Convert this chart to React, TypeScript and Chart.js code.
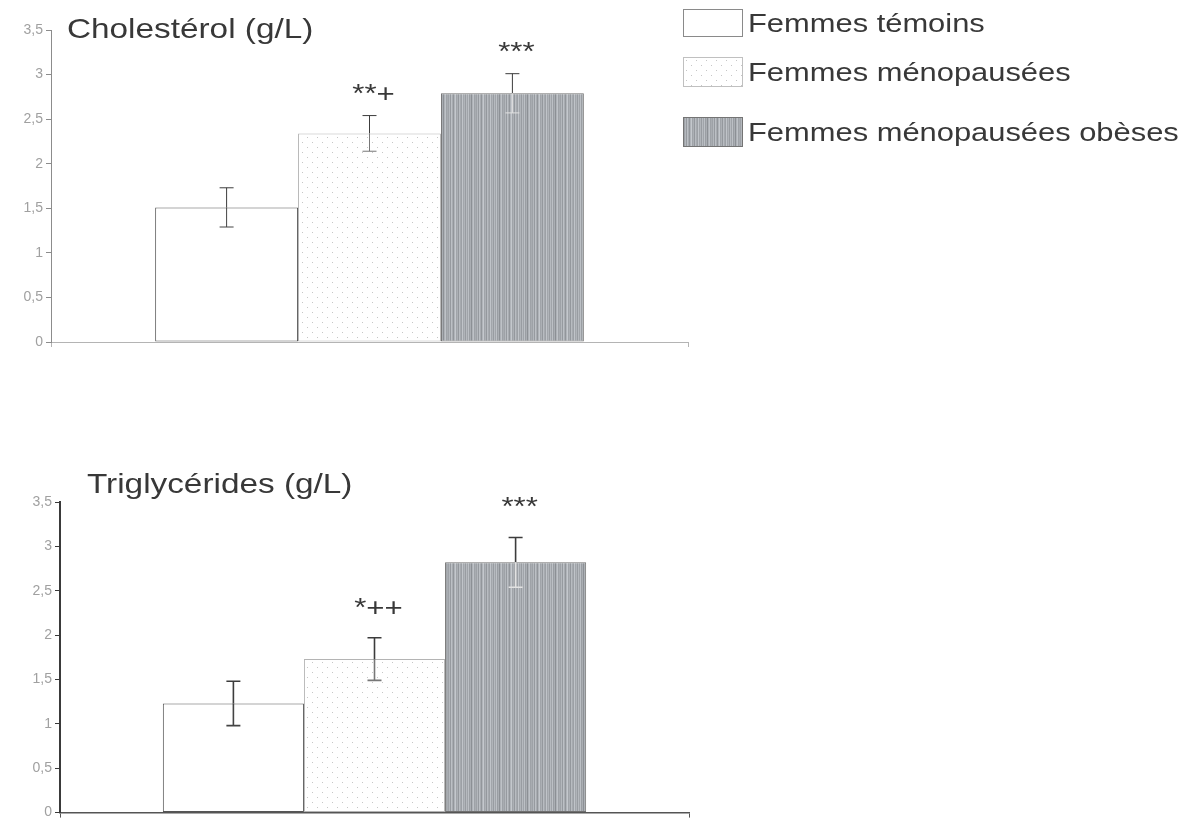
import React, { useEffect, useRef } from "react";
import { Chart, registerables } from "chart.js";

Chart.register(...registerables);

// ---------- data ----------
const groups = ["Femmes témoins", "Femmes ménopausées", "Femmes ménopausées obèses"];
const categories = [""];
const yTicks = [0, 0.5, 1, 1.5, 2, 2.5, 3, 3.5];

const cholTitle = "Cholestérol (g/L)";
const cholMeans = [1.51, 2.34, 2.79];
const cholErrors = [0.22, 0.2, 0.22];
const cholMarks = ["", "**+", "***"];

const trigTitle = "Triglycérides (g/L)";
const trigMeans = [1.23, 1.73, 2.82];
const trigErrors = [0.25, 0.24, 0.28];
const trigMarks = ["", "*++", "***"];

const FONT = '"Liberation Sans", Arial, Helvetica, sans-serif';

// ---------- fill patterns ----------
function makeDotTile(): HTMLCanvasElement {
  const c = document.createElement("canvas");
  c.width = 10;
  c.height = 10;
  const g = c.getContext("2d")!;
  g.fillStyle = "#ffffff";
  g.fillRect(0, 0, 10, 10);
  g.fillStyle = "#c6c6c6";
  g.fillRect(2, 2, 1, 1);
  g.fillRect(7, 7, 1, 1);
  return c;
}

const stripeGrays = [
  158, 180, 150, 188, 168, 146, 176, 196, 160, 172, 148, 184, 166, 156, 192, 162,
  176, 152, 182, 160, 188, 154, 170, 140, 174, 190, 158, 168,
];

function makeStripeTile(): HTMLCanvasElement {
  const c = document.createElement("canvas");
  c.width = stripeGrays.length;
  c.height = 8;
  const g = c.getContext("2d")!;
  stripeGrays.forEach((v, i) => {
    g.fillStyle = `rgb(${v},${v + 4},${v + 9})`;
    g.fillRect(i, 0, 1, 8);
  });
  return c;
}

const dotTile = makeDotTile();
const stripeTile = makeStripeTile();

function drawScaledText(
  ctx: CanvasRenderingContext2D,
  text: string,
  x: number,
  y: number,
  size: number,
  color: string,
  sx: number,
  align: CanvasTextAlign
) {
  ctx.save();
  ctx.translate(x, y);
  ctx.scale(sx, 1);
  ctx.font = `${size}px ${FONT}`;
  ctx.fillStyle = color;
  ctx.textAlign = align;
  ctx.textBaseline = "alphabetic";
  ctx.fillText(text, 0, 0);
  ctx.restore();
}

type PanelProps = {
  title: string;
  means: number[];
  errors: number[];
  marks: string[];
  width: number;
  height: number;
  axisLeft: number;
  padTop: number;
  padRight: number;
  xAxisHeight: number;
  titleX: number;
  titleY: number;
  markOffset: number;
  yAxisColor: string;
  yAxisWidth: number;
  xAxisColor: string;
  xAxisWidth: number;
  errWidth: number;
};

function Panel(p: PanelProps) {
  const ref = useRef<HTMLCanvasElement | null>(null);

  useEffect(() => {
    const canvas = ref.current!;
    const ctx0 = canvas.getContext("2d")!;
    const dots = ctx0.createPattern(dotTile, "repeat")!;
    const stripes = ctx0.createPattern(stripeTile, "repeat")!;
    const fills = ["#ffffff", dots, stripes];
    const borders = ["#555555", "#b4b4b4", "#707070"];
    const innerErr = ["#444444", "#777777", "#e2e2e2"];

    const overlay = {
      id: "overlay",
      afterDatasetsDraw(chart: any) {
        const ctx: CanvasRenderingContext2D = chart.ctx;
        const ys = chart.scales.y;
        p.means.forEach((m, i) => {
          const bar = chart.getDatasetMeta(i).data[0];
          const x = bar.x;
          const yTop = ys.getPixelForValue(m + p.errors[i]);
          const yBot = ys.getPixelForValue(m - p.errors[i]);
          const yMean = ys.getPixelForValue(m);
          const cap = 7;
          ctx.save();
          ctx.lineWidth = p.errWidth;
          ctx.strokeStyle = "#3c3c3c";
          ctx.beginPath();
          ctx.moveTo(x, yTop);
          ctx.lineTo(x, yMean);
          ctx.moveTo(x - cap, yTop);
          ctx.lineTo(x + cap, yTop);
          ctx.stroke();
          ctx.strokeStyle = innerErr[i];
          ctx.beginPath();
          ctx.moveTo(x, yMean);
          ctx.lineTo(x, yBot);
          ctx.moveTo(x - cap, yBot);
          ctx.lineTo(x + cap, yBot);
          ctx.stroke();
          ctx.restore();
          if (p.marks[i]) {
            drawScaledText(ctx, p.marks[i], x + 4, yTop - p.markOffset, 26, "#383838", 1.2, "center");
          }
        });
        drawScaledText(ctx, p.title, p.titleX, p.titleY, 28, "#383838", 1.19, "left");
      },
    };

    const chart = new Chart(canvas, {
      type: "bar",
      data: {
        labels: categories,
        datasets: groups.map((g, i) => ({
          label: g,
          data: [p.means[i]],
          backgroundColor: fills[i] as any,
          borderColor: borders[i],
          borderWidth: 1,
          borderSkipped: false,
          barPercentage: 1,
          categoryPercentage: 0.673,
        })),
      },
      options: {
        responsive: false,
        animation: false,
        events: [],
        layout: { padding: { top: p.padTop, right: p.padRight, left: 0, bottom: 0 } },
        plugins: {
          legend: { display: false },
          tooltip: { enabled: false },
          title: { display: false },
        },
        scales: {
          x: {
            afterFit: (s: any) => {
              s.height = p.xAxisHeight;
            },
            ticks: { display: false },
            grid: {
              display: true,
              drawOnChartArea: false,
              drawTicks: true,
              tickLength: 5,
              color: p.xAxisColor,
              offset: true,
            },
            border: { display: true, color: p.xAxisColor, width: p.xAxisWidth },
          },
          y: {
            min: 0,
            max: 3.5,
            afterBuildTicks: (s: any) => {
              s.ticks = yTicks.map((v) => ({ value: v }));
            },
            afterFit: (s: any) => {
              s.width = p.axisLeft;
            },
            ticks: {
              callback: (v: any) => String(v).replace(".", ","),
              color: "#a0a0a0",
              font: { family: FONT, size: 14 },
              padding: 3,
            },
            grid: {
              display: true,
              drawOnChartArea: false,
              drawTicks: true,
              tickLength: 5,
              color: p.yAxisColor,
            },
            border: { display: true, color: p.yAxisColor, width: p.yAxisWidth },
          },
        },
      },
      plugins: [overlay],
    });
    return () => chart.destroy();
  }, []);

  return <canvas ref={ref} width={p.width} height={p.height} style={{ display: "block" }} />;
}

function Legend() {
  const dotUrl = dotTile.toDataURL();
  const stripeUrl = stripeTile.toDataURL();
  const rows = [
    { top: 9, h: 28, bg: "#ffffff", img: "none", border: "1px solid #8a8a8a" },
    { top: 57, h: 30, bg: "#ffffff", img: `url(${dotUrl})`, border: "1px solid #c0c0c0" },
    { top: 117, h: 30, bg: "#aab0b4", img: `url(${stripeUrl})`, border: "1px solid #747474" },
  ];
  return (
    <>
      {groups.map((g, i) => (
        <div
          key={g}
          style={{
            position: "absolute",
            left: 683,
            top: rows[i].top,
            height: rows[i].h,
            display: "flex",
            alignItems: "center",
            whiteSpace: "nowrap",
          }}
        >
          <div
            style={{
              width: 60,
              height: rows[i].h,
              boxSizing: "border-box",
              border: rows[i].border,
              backgroundColor: rows[i].bg,
              backgroundImage: rows[i].img,
              flex: "none",
            }}
          />
          <span
            style={{
              marginLeft: 5,
              fontFamily: FONT,
              fontSize: 25,
              lineHeight: `${rows[i].h}px`,
              color: "#383838",
              display: "inline-block",
              transform: "scaleX(1.235)",
              transformOrigin: "left center",
            }}
          >
            {g}
          </span>
        </div>
      ))}
    </>
  );
}

export default function App() {
  return (
    <div
      style={{
        position: "absolute",
        left: 0,
        top: 0,
        width: 1194,
        height: 824,
        background: "#ffffff",
        overflow: "hidden",
      }}
    >
      <div style={{ position: "absolute", left: 0, top: 0 }}>
        <Panel
          title={cholTitle}
          means={cholMeans}
          errors={cholErrors}
          marks={cholMarks}
          width={700}
          height={360}
          axisLeft={51}
          padTop={30}
          padRight={12}
          xAxisHeight={18}
          titleX={67}
          titleY={38}
          markOffset={14}
          yAxisColor="#8c8c8c"
          yAxisWidth={1}
          xAxisColor="#b4b4b4"
          xAxisWidth={1}
          errWidth={1}
        />
      </div>
      <div style={{ position: "absolute", left: 0, top: 440 }}>
        <Panel
          title={trigTitle}
          means={trigMeans}
          errors={trigErrors}
          marks={trigMarks}
          width={700}
          height={384}
          axisLeft={60}
          padTop={62}
          padRight={11}
          xAxisHeight={6}
          titleX={87}
          titleY={53}
          markOffset={22}
          yAxisColor="#3a3a3a"
          yAxisWidth={2}
          xAxisColor="#555555"
          xAxisWidth={1.5}
          errWidth={1.6}
        />
      </div>
      <Legend />
    </div>
  );
}
